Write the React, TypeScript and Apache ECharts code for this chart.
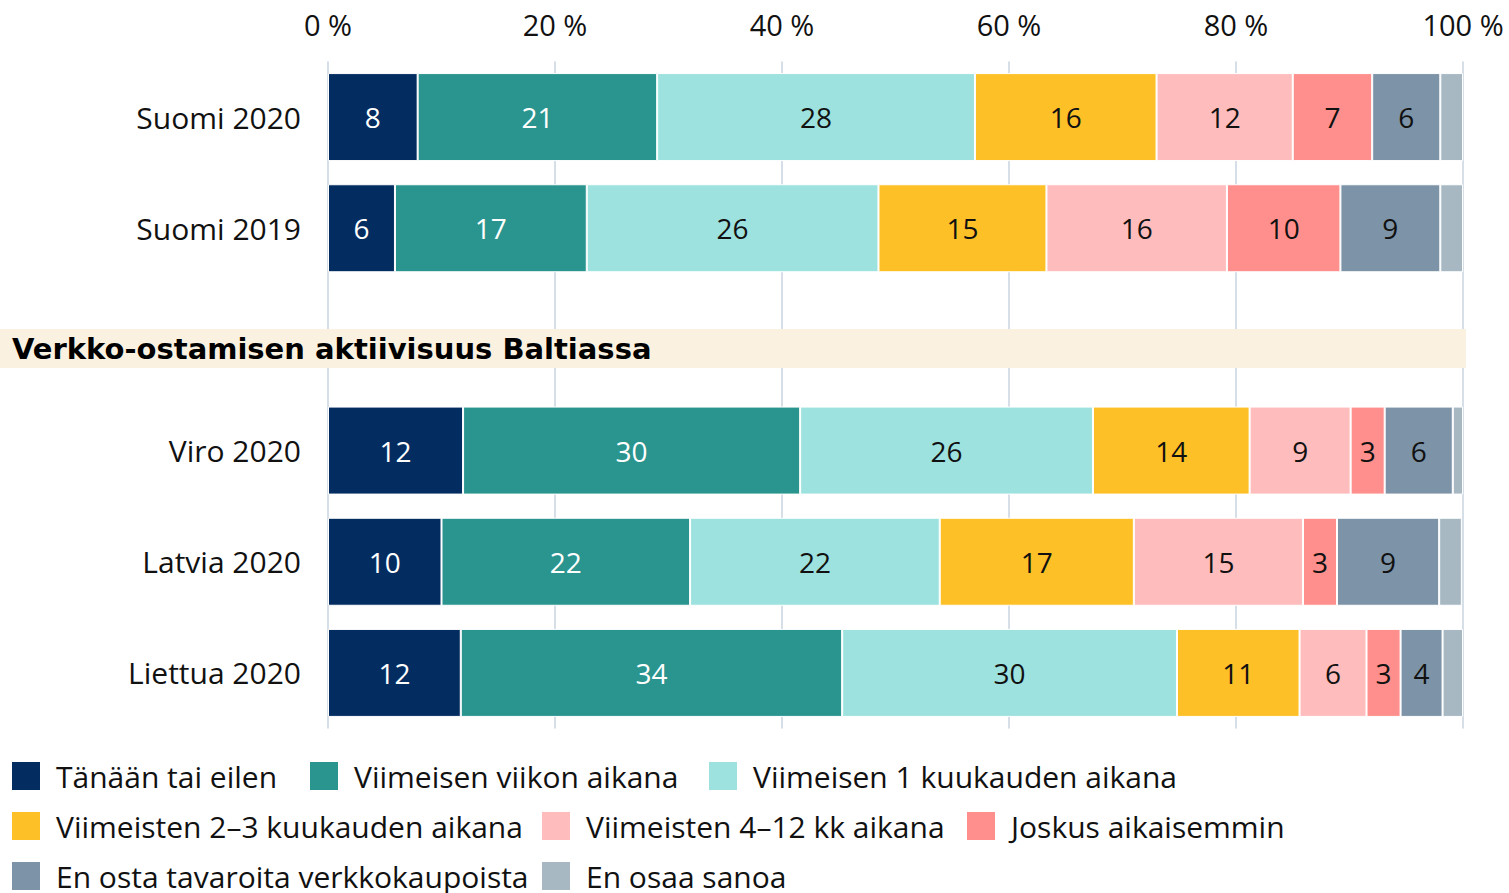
import React, { useEffect, useRef } from "react";
import * as echarts from "echarts";

const categories = ["Suomi 2020", "Suomi 2019", "", "Viro 2020", "Latvia 2020", "Liettua 2020"];
const seriesNames = [
  "Tänään tai eilen",
  "Viimeisen viikon aikana",
  "Viimeisen 1 kuukauden aikana",
  "Viimeisten 2–3 kuukauden aikana",
  "Viimeisten 4–12 kk aikana",
  "Joskus aikaisemmin",
  "En osta tavaroita verkkokaupoista",
  "En osaa sanoa",
];
const colors = ["#032c61", "#2a948e", "#9de2de", "#fdc027", "#ffbcbc", "#ff8f8c", "#7d93a7", "#a7b8c3"];

const todayOrYesterday = [7.9, 5.9, null, 11.9, 10.0, 11.7];
const lastWeek = [21.1, 16.9, null, 29.7, 21.9, 33.6];
const lastMonth = [28.0, 25.7, null, 25.8, 22.0, 29.5];
const last2to3Months = [16.0, 14.8, null, 13.8, 17.1, 10.8];
const last4to12Months = [12.0, 15.9, null, 8.9, 14.9, 5.9];
const earlier = [7.0, 10.0, null, 3.0, 3.0, 3.0];
const notBuying = [6.0, 8.8, null, 6.0, 9.0, 3.7];
const dontKnow = [2.0, 2.0, null, 0.9, 2.0, 1.8];

const seriesData = [
  todayOrYesterday,
  lastWeek,
  lastMonth,
  last2to3Months,
  last4to12Months,
  earlier,
  notBuying,
  dontKnow,
];

const xTicks = [0, 20, 40, 60, 80, 100];
const sectionTitle = "Verkko-ostamisen aktiivisuus Baltiassa";

const legendPos = [
  [10, 760],
  [308, 760],
  [707, 760],
  [10, 810],
  [540, 810],
  [965, 810],
  [10, 860],
  [540, 860],
];

const FONT = "Open Sans";
const TITLE_FONT = "DejaVu Sans";

export default function App() {
  const ref = useRef<HTMLDivElement>(null);
  useEffect(() => {
    if (!ref.current) return;
    const chart = echarts.init(ref.current, undefined, { renderer: "svg" });
    const option: any = {
      animation: false,
      backgroundColor: "#ffffff",
      textStyle: { fontFamily: FONT },
      grid: { left: 328, right: 46, top: 61.5, bottom: 164.5, containLabel: false },
      xAxis: {
        type: "value",
        position: "top",
        min: xTicks[0],
        max: xTicks[xTicks.length - 1],
        interval: 20,
        axisLine: { show: false },
        axisTick: { show: false },
        splitLine: { show: true, lineStyle: { color: "#d6dee7", width: 2 } },
        axisLabel: {
          formatter: "{value} %",
          fontSize: 29,
          color: "#111111",
          fontFamily: FONT,
          margin: 23,
        },
      },
      yAxis: {
        type: "category",
        inverse: true,
        data: categories,
        axisLine: { show: false },
        axisTick: { show: false },
        axisLabel: { fontSize: 30, color: "#111111", fontFamily: FONT, margin: 27 },
      },
      legend: seriesNames.map((n, i) => ({
        data: [n],
        left: legendPos[i][0],
        top: legendPos[i][1],
        padding: 0,
        icon: "rect",
        itemWidth: 30,
        itemHeight: 30,
        selectedMode: false,
        textStyle: { fontSize: 30, color: "#111111", fontFamily: FONT, padding: [0, 0, 0, 10] },
      })),
      series: seriesNames.map((n, i) => ({
        name: n,
        type: "bar",
        stack: "total",
        barWidth: 88,
        data: seriesData[i],
        itemStyle: { color: colors[i], borderColor: "#ffffff", borderWidth: 1 },
        label: {
          show: i < 7,
          position: "inside",
          formatter: (p: any) => (p.value == null ? "" : String(Math.round(p.value))),
          fontSize: 28,
          fontFamily: FONT,
          color: i < 2 ? "#ffffff" : "#111111",
        },
      })),
      graphic: [
        {
          type: "rect",
          shape: { x: 0, y: 329, width: 1466, height: 39 },
          style: { fill: "#faf1e1" },
          z: 10,
        },
        {
          type: "text",
          x: 12,
          y: 349,
          z: 11,
          style: {
            text: sectionTitle,
            font: `bold 29px "${TITLE_FONT}"`,
            fill: "#000000",
            verticalAlign: "middle",
          },
        },
      ],
    };
    chart.setOption(option);
    return () => chart.dispose();
  }, []);
  return (
    <div
      ref={ref}
      style={{ position: "fixed", left: 0, top: 0, width: 1509, height: 893 }}
    />
  );
}
